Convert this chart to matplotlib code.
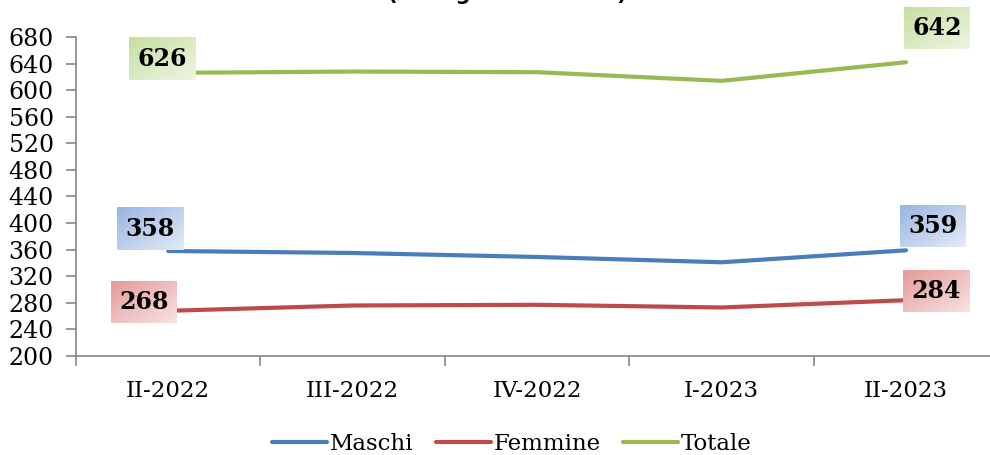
import numpy as np
import matplotlib
matplotlib.use("Agg")
import matplotlib.pyplot as plt
from matplotlib.colors import to_rgb

periods = ["II-2022", "III-2022", "IV-2022", "I-2023", "II-2023"]
maschi = [358, 355, 349, 341, 359]
femmine = [268, 276, 277, 273, 284]
totale = [626, 628, 627, 614, 642]

series = [
    ("Maschi", maschi, "#4A7EBB", ("#9AB5E1", "#E2EAF7")),
    ("Femmine", femmine, "#BE4B48", ("#E69A9A", "#F8E2E2")),
    ("Totale", totale, "#98B954", ("#C6DF9F", "#EEF5E3")),
]
# label offsets (pixels) for first and last point
offsets = {
    "Maschi": [(-18, 22), (27, 24)],
    "Femmine": [(-24, 9), (30, 9)],
    "Totale": [(-6, 14), (31, 34)],
}

plt.rcParams["font.family"] = ["DejaVu Serif"]
fig = plt.figure(figsize=(9.9, 4.55), dpi=100)
ax = fig.add_axes([0.0768, 0.2176, 0.9315, 0.7011])
ax.set_facecolor("none")

x = np.arange(len(periods))
for name, vals, col, _ in series:
    ax.plot(x, vals, color=col, lw=3, solid_capstyle="round", label=name, zorder=3)

ax.set_xlim(-0.5, len(periods) - 0.5)
ax.set_ylim(200, 680)
ax.set_yticks(np.arange(200, 681, 40))
ax.set_xticks(x)
ax.set_xticklabels(periods)
ax.set_xticks(np.arange(-0.5, len(periods), 1), minor=True)
ax.tick_params(axis="x", which="major", length=0, labelsize=16.5, pad=17)
ax.tick_params(axis="x", which="minor", length=7, color="#868686", width=1.2)
ax.tick_params(axis="y", length=7, color="#868686", width=1.2, labelsize=17, pad=9)
for s in ["top", "right"]:
    ax.spines[s].set_visible(False)
for s in ["left", "bottom"]:
    ax.spines[s].set_color("#868686")
    ax.spines[s].set_linewidth(1.2)

texts = []
for name, vals, col, grad in series:
    for idx, off in zip([0, len(vals) - 1], offsets[name]):
        t = ax.annotate(str(vals[idx]), (x[idx], vals[idx]), xytext=off,
                        textcoords="offset pixels", ha="center", va="center",
                        fontsize=17, fontweight="bold", zorder=6,
                        annotation_clip=False)
        texts.append((t, grad))

fig.text(0.512, 1.0, "(in migliaia di unità)", ha="center", va="baseline",
         fontsize=15, fontweight="bold", family="DejaVu Sans")

leg = fig.legend(loc="lower center", bbox_to_anchor=(0.517, -0.045), ncol=3,
                 frameon=False, fontsize=16.5, handlelength=2.4, columnspacing=1.0,
                 handletextpad=0.1)

fig.canvas.draw()
r = fig.canvas.get_renderer()
inv = ax.transData.inverted()
w, h = 66, 42
for t, grad in texts:
    bb = t.get_window_extent(r)
    cx, cy = (bb.x0 + bb.x1) / 2, (bb.y0 + bb.y1) / 2
    c0, c1 = np.array(to_rgb(grad[0])), np.array(to_rgb(grad[1]))
    gx, gy = np.meshgrid(np.linspace(0, 1, 60), np.linspace(0, 1, 40))
    f = (gx + gy) / 2
    img = c0[None, None, :] * (1 - f[..., None]) + c1[None, None, :] * f[..., None]
    (x0, y0) = inv.transform((cx - w / 2, cy + h / 2))
    (x1, y1) = inv.transform((cx + w / 2, cy - h / 2))
    ax.imshow(img, extent=[x0, x1, y1, y0], origin="upper", aspect="auto",
              zorder=5, clip_on=False, interpolation="bilinear")
ax.set_xlim(-0.5, len(periods) - 0.5)
ax.set_ylim(200, 680)

fig.savefig("out.png", dpi=100)
